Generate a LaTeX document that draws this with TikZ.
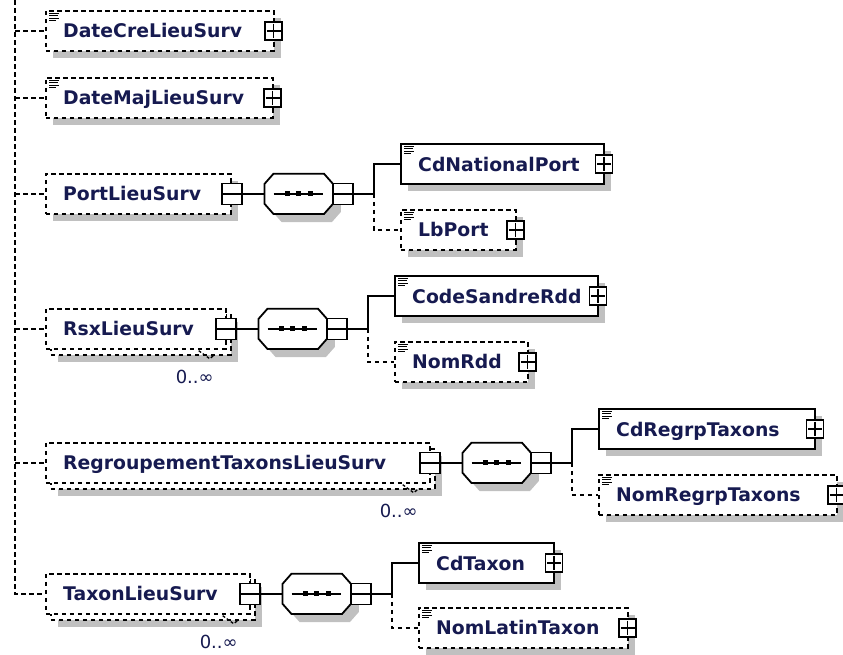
\documentclass[tikz,border=0pt]{standalone}
\usepackage{fontspec}
\setmainfont{DejaVu Sans}
\usetikzlibrary{calc}
\definecolor{shadowc}{RGB}{192,192,192}
\definecolor{namec}{RGB}{22,26,80}
\tikzset{
  dconn/.style={draw=black, line width=1.7pt, dash pattern=on 4.5pt off 3.5pt},
  sconn/.style={draw=black, line width=1.8pt},
  optbox/.style={draw=black, fill=white, line width=1.7pt, dash pattern=on 4.5pt off 3.5pt, inner sep=0, anchor=north west},
  reqbox/.style={draw=black, fill=white, line width=2pt, inner sep=0, anchor=north west},
  nametxt/.style={font=\bfseries\fontsize{18.8}{19}\selectfont, text=namec, inner sep=0, anchor=base west},
  multtxt/.style={font=\fontsize{18}{18}\selectfont, text=namec, inner sep=0},
  pmbox/.style={draw=black, fill=white, line width=1.7pt, inner sep=0, minimum width=20pt, minimum height=21pt},
  plbox/.style={draw=black, fill=white, line width=1.7pt, inner sep=0, minimum width=17pt, minimum height=18pt},
  signl/.style={draw=black, line width=1.5pt},
  seqnode/.style={inner sep=0, minimum width=68pt, minimum height=40pt},
  shad/.style={fill=shadowc},
  iconl/.style={draw=black, line width=1pt},
  notchl/.style={draw=black, line width=1.3pt, dash pattern=on 3pt off 2pt},
}
% box with shadow and name
\newcommand{\elem}[6]{%
  \fill[shad] (#3+8,#4+8) rectangle (#3+#5+8,#4+48);
  \node[#2, minimum width=#5pt, minimum height=40pt] (#1) at (#3,#4) {};
  \node[nametxt] (#1-t) at ([xshift=18pt,yshift=-7pt]#1.west) {#6};
}
% multi occurrence element
\newcommand{\melem}[5]{%
  \fill[shad] (#2+13,#3+14) rectangle (#2+#4+13,#3+54);
  \node[optbox, minimum width=#4pt, minimum height=40pt] (#1-b) at (#2+5,#3+6) {};
  \node[optbox, minimum width=#4pt, minimum height=40pt] (#1) at (#2,#3) {};
  \node[nametxt] (#1-t) at ([xshift=18pt,yshift=-7pt]#1.west) {#5};
  \draw[notchl] ([xshift=-28pt,yshift=-1pt]#1.south east) -- ([xshift=-17pt,yshift=-9pt]#1.south east) -- ([xshift=-12pt,yshift=-5pt]#1.south east);
  \node[multtxt] (#1-o) at ([xshift=-32pt,yshift=-27pt]#1.south east) {0..∞};
}
\newcommand{\icon}[1]{%
  \draw[iconl] ([shift={(4,3)}]#1.north west) -- ++(10,0)
    ([shift={(4,5.5)}]#1.north west) -- ++(9,0)
    ([shift={(4,8)}]#1.north west) -- ++(10,0)
    ([shift={(4,10.5)}]#1.north west) -- ++(7,0);
}
\newcommand{\plusat}[2]{%
  \node[plbox] (#1) at (#2) {};
  \draw[signl] ([xshift=2.5pt]#1.west) -- ([xshift=-2.5pt]#1.east)
    ([yshift=-2.5pt]#1.north) -- ([yshift=2.5pt]#1.south);
}
\newcommand{\minusat}[2]{%
  \node[pmbox] (#1) at (#2) {};
  \draw[signl] ([xshift=2pt]#1.west) -- ([xshift=-2pt]#1.east);
}
\newcommand{\octo}[4]{%
  \path[#4] ([shift={(#2,#3-10)}]#1.west) -- ([shift={(#2+9,#3)}]#1.north west)
   -- ([shift={(#2-9,#3)}]#1.north east) -- ([shift={(#2,#3-10)}]#1.east)
   -- ([shift={(#2,#3+10)}]#1.east) -- ([shift={(#2-9,#3)}]#1.south east)
   -- ([shift={(#2+9,#3)}]#1.south west) -- ([shift={(#2,#3+10)}]#1.west) -- cycle;
}
\newcommand{\seqg}[2]{%
  \node[seqnode, anchor=west] (#1) at ([xshift=22pt]#2.east) {};
  \octo{#1}{8}{8}{shad}
  \octo{#1}{0}{0}{sconn, fill=white}
  \draw[sconn, line width=1.5pt] ([xshift=9pt]#1.west) -- ([xshift=-10pt]#1.east);
  \foreach \dx in {-11.5,0,11.5} \fill[black] ([shift={(\dx-2.5,-2.5)}]#1.center) rectangle ++(5,5);
  \minusat{#1-m}{[xshift=10pt]#1.east}
}
\begin{document}
\begin{tikzpicture}[x=1pt,y=-1pt]
\useasboundingbox (0,0) rectangle (843,654);
\coordinate (trunk) at (15,0);

% row 1 and 2
\elem{dcre}{optbox}{45}{10}{228}{DateCreLieuSurv}
\icon{dcre}
\plusat{dcre-p}{[xshift=-1pt]dcre.east}
\elem{dmaj}{optbox}{45}{77}{227}{DateMajLieuSurv}
\icon{dmaj}
\plusat{dmaj-p}{[xshift=-1pt]dmaj.east}

% row 3
\elem{port}{optbox}{45}{173}{185}{PortLieuSurv}
\minusat{port-m}{port.east}
\seqg{seq3}{port-m}
\elem{cdnp}{reqbox}{400}{143}{203}{CdNationalPort}
\icon{cdnp}
\plusat{cdnp-p}{[xshift=-1pt]cdnp.east}
\elem{lbp}{optbox}{400}{209}{115}{LbPort}
\icon{lbp}
\plusat{lbp-p}{[xshift=-1pt]lbp.east}

% row 4
\melem{rsx}{45}{308}{180}{RsxLieuSurv}
\minusat{rsx-m}{[xshift=-1pt]rsx.east}
\seqg{seq4}{rsx-m}
\elem{csr}{reqbox}{394}{275}{203}{CodeSandreRdd}
\icon{csr}
\plusat{csr-p}{[xshift=-1pt]csr.east}
\elem{nrdd}{optbox}{394}{341}{133}{NomRdd}
\icon{nrdd}
\plusat{nrdd-p}{[xshift=-1pt]nrdd.east}

% row 5
\melem{regr}{45}{442}{384}{RegroupementTaxonsLieuSurv}
\minusat{regr-m}{[xshift=-1pt]regr.east}
\seqg{seq5}{regr-m}
\elem{cdrg}{reqbox}{598}{408}{216}{CdRegrpTaxons}
\icon{cdrg}
\plusat{cdrg-p}{[xshift=-1pt]cdrg.east}
\elem{nmrg}{optbox}{598}{474}{238}{NomRegrpTaxons}
\icon{nmrg}
\plusat{nmrg-p}{[xshift=-1pt]nmrg.east}

% row 6
\melem{taxon}{45}{573}{204}{TaxonLieuSurv}
\minusat{taxon-m}{[xshift=-1pt]taxon.east}
\seqg{seq6}{taxon-m}
\elem{cdtx}{reqbox}{418}{542}{135}{CdTaxon}
\icon{cdtx}
\plusat{cdtx-p}{[xshift=-1pt]cdtx.east}
\elem{nltx}{optbox}{418}{607}{209}{NomLatinTaxon}
\icon{nltx}
\plusat{nltx-p}{[xshift=-1pt]nltx.east}

% trunk and row connectors
\draw[dconn] (trunk) -- (taxon.west -| trunk) -- (taxon.west);
\foreach \n in {dcre,dmaj,port,rsx,regr}
  \draw[dconn] (\n.west -| trunk) -- (\n.west);

% element to sequence
\draw[sconn] (port-m.east) -- (seq3.west);
\draw[sconn] (rsx-m.east) -- (seq4.west);
\draw[sconn] (regr-m.east) -- (seq5.west);
\draw[sconn] (taxon-m.east) -- (seq6.west);

% branches
\coordinate (br3) at ([xshift=20pt]seq3-m.east);
\draw[sconn] (seq3-m.east) -- (br3) |- (cdnp.west);
\draw[dconn] (br3) |- (lbp.west);
\coordinate (br4) at ([xshift=20pt]seq4-m.east);
\draw[sconn] (seq4-m.east) -- (br4) |- (csr.west);
\draw[dconn] (br4) |- (nrdd.west);
\coordinate (br5) at ([xshift=20pt]seq5-m.east);
\draw[sconn] (seq5-m.east) -- (br5) |- (cdrg.west);
\draw[dconn] (br5) |- (nmrg.west);
\coordinate (br6) at ([xshift=20pt]seq6-m.east);
\draw[sconn] (seq6-m.east) -- (br6) |- (cdtx.west);
\draw[dconn] (br6) |- (nltx.west);
\end{tikzpicture}
\end{document}
